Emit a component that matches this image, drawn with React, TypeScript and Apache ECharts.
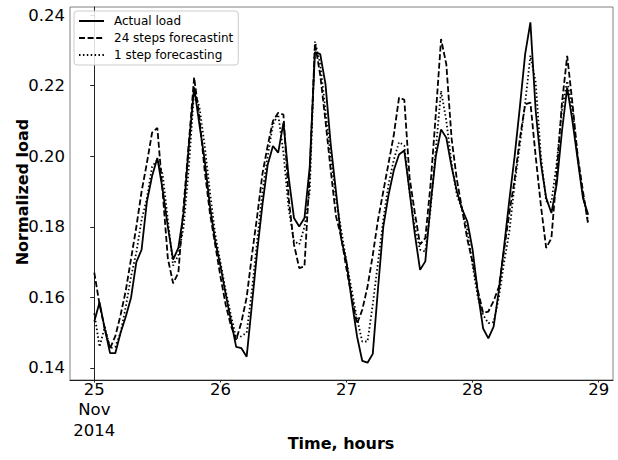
import React, { useEffect, useRef } from "react";
import * as echarts from "echarts";

// Hourly values starting 25 Nov 2014 00:00 (index = hour)
const actualLoad = [
  0.1532, 0.1586, 0.151, 0.1442, 0.1442, 0.15, 0.1546, 0.16, 0.17, 0.1735,
  0.187, 0.1944, 0.1995, 0.1906, 0.18, 0.1707, 0.174, 0.184, 0.203, 0.2195,
  0.209, 0.199, 0.186, 0.176, 0.169, 0.161, 0.1535, 0.146, 0.1456, 0.1432,
  0.158, 0.173, 0.1863, 0.1976, 0.2029, 0.201, 0.2095, 0.1939, 0.1825, 0.1801,
  0.1825, 0.197, 0.2295, 0.2289, 0.2204, 0.2033, 0.19, 0.1765, 0.17, 0.159,
  0.149, 0.142, 0.1415, 0.144, 0.1626, 0.18, 0.189, 0.196, 0.2005, 0.2016,
  0.19, 0.178, 0.1678, 0.1702, 0.1863, 0.2, 0.2076, 0.2052, 0.197, 0.1901,
  0.185, 0.1815, 0.1735, 0.1613, 0.1512, 0.1484, 0.1517, 0.162, 0.1745, 0.1877,
  0.2, 0.214, 0.2289, 0.2379, 0.213, 0.198, 0.1882, 0.1839, 0.192, 0.207,
  0.2194, 0.21, 0.199, 0.1882, 0.1834,
];

const forecast24 = [
  0.167, 0.158, 0.151, 0.1456, 0.149, 0.155, 0.162, 0.171, 0.18, 0.19,
  0.198, 0.2067, 0.208, 0.19, 0.171, 0.164, 0.167, 0.186, 0.204, 0.2223,
  0.211, 0.196, 0.184, 0.175, 0.166, 0.158, 0.152, 0.148, 0.153, 0.16,
  0.172, 0.183, 0.195, 0.203, 0.21, 0.2123, 0.2118, 0.188, 0.175, 0.1683,
  0.1688, 0.195, 0.232, 0.223, 0.21, 0.196, 0.183, 0.177, 0.168, 0.16,
  0.1525, 0.1565, 0.163, 0.172, 0.182, 0.19, 0.198, 0.206, 0.2166, 0.216,
  0.194, 0.184, 0.175, 0.1768, 0.192, 0.212, 0.2332, 0.226, 0.205, 0.1934,
  0.185, 0.1764, 0.17, 0.162, 0.1556, 0.156, 0.159, 0.163, 0.1735, 0.184,
  0.1934, 0.205, 0.2147, 0.2152, 0.2, 0.186, 0.174, 0.1768, 0.195, 0.215,
  0.2284, 0.215, 0.2, 0.1901, 0.1806,
];

const forecast1 = [
  0.1555, 0.146, 0.1517, 0.1456, 0.146, 0.15, 0.1574, 0.166, 0.1727, 0.182,
  0.188, 0.197, 0.199, 0.195, 0.182, 0.169, 0.172, 0.18, 0.197, 0.2185,
  0.214, 0.203, 0.19, 0.178, 0.17, 0.162, 0.155, 0.1484, 0.149, 0.15,
  0.162, 0.176, 0.19, 0.2, 0.209, 0.2118, 0.201, 0.185, 0.176, 0.175,
  0.18, 0.19, 0.2325, 0.226, 0.213, 0.2, 0.188, 0.179, 0.17, 0.162,
  0.154, 0.1475, 0.1475, 0.158, 0.17, 0.182, 0.192, 0.199, 0.204, 0.203,
  0.19, 0.18, 0.1735, 0.173, 0.185, 0.202, 0.2185, 0.21, 0.198, 0.189,
  0.185, 0.179, 0.169, 0.16, 0.155, 0.1527, 0.153, 0.16, 0.17, 0.1787,
  0.192, 0.2033, 0.215, 0.2285, 0.221, 0.2, 0.1872, 0.187, 0.198, 0.213,
  0.2213, 0.213, 0.2, 0.189, 0.1815,
];

const seriesNames = ["Actual load", "24 steps forecastint", "1 step forecasting"];
const tickHours = [0, 24, 48, 72, 96];
const tickLabels = ["25\nNov\n2014", "26", "27", "28", "29"];
const yTicks = [0.14, 0.16, 0.18, 0.2, 0.22, 0.24];

const FONT = "DejaVu Sans";

export default function App() {
  const ref = useRef<HTMLDivElement>(null);

  useEffect(() => {
    document.body.style.margin = "0";
    const chart = echarts.init(ref.current!, null, { renderer: "svg" });
    const toPts = (arr: number[]) => arr.map((v, i) => [i, v]);
    const lineTypes: any[] = ["solid", [6, 2.6], [1.5, 2.4]];
    const seriesData = [actualLoad, forecast24, forecast1];

    chart.setOption({
      animation: false,
      backgroundColor: "#fff",
      grid: {
        left: 70,
        right: 5,
        top: 7,
        bottom: 80,
        show: true,
        borderColor: "#808080",
        borderWidth: 1,
        backgroundColor: "transparent",
      },
      legend: {
        orient: "vertical",
        left: 74,
        top: 11,
        itemWidth: 25,
        itemHeight: 14,
        itemGap: 5,
        padding: [4, 5, 4, 4],
        backgroundColor: "rgba(255,255,255,0.85)",
        borderColor: "#cccccc",
        borderWidth: 1,
        borderRadius: 3,
        itemStyle: { opacity: 0 },
        textStyle: {
          fontFamily: FONT,
          fontSize: 12,
          color: "#000",
          padding: [0, 0, 0, 5],
        },
        data: seriesNames.map((n) => ({ name: n })),
      },
      xAxis: {
        type: "value",
        min: -4.625,
        max: 98.72,
        splitLine: { show: false },
        axisLine: { show: true, lineStyle: { color: "#222", width: 1 } },
        axisTick: {
          show: true,
          inside: false,
          length: 2.5,
          customValues: tickHours,
          lineStyle: { color: "#222" },
        },
        axisLabel: {
          customValues: tickHours,
          formatter: (v: number) => {
            const i = tickHours.indexOf(Math.round(v));
            return i >= 0 ? tickLabels[i] : "";
          },
          fontFamily: FONT,
          fontSize: 16.5,
          color: "#000",
          lineHeight: 20.5,
          margin: -1,
        },
      },
      yAxis: {
        type: "value",
        min: 0.1366,
        max: 0.24227,
        splitLine: { show: false },
        axisLine: { show: true, lineStyle: { color: "#222", width: 1 } },
        axisTick: {
          show: true,
          inside: false,
          length: 4,
          customValues: yTicks,
          lineStyle: { color: "#222" },
        },
        axisLabel: {
          customValues: yTicks,
          formatter: (v: number) => v.toFixed(2),
          fontFamily: FONT,
          fontSize: 16.5,
          color: "#000",
          margin: 5,
        },
      },
      graphic: [
        {
          type: "text",
          x: 22,
          y: 192,
          rotation: Math.PI / 2,
          style: {
            text: "Normalized load",
            fontFamily: FONT,
            fontSize: 16,
            fontWeight: "bold",
            fill: "#000",
            textAlign: "center",
            textVerticalAlign: "middle",
          },
        },
        {
          type: "text",
          x: 341,
          y: 443,
          style: {
            text: "Time, hours",
            fontFamily: FONT,
            fontSize: 16,
            fontWeight: "bold",
            fill: "#000",
            textAlign: "center",
            textVerticalAlign: "middle",
          },
        },
      ],
      series: seriesNames.map((name, k) => ({
        name,
        type: "line",
        data: toPts(seriesData[k]),
        symbol: "none",
        showSymbol: false,
        z: 3 - k,
        lineStyle: { color: "#000", width: 1.8, type: lineTypes[k] },
        itemStyle: { color: "#000" },
      })),
    });
    return () => chart.dispose();
  }, []);

  return <div ref={ref} style={{ width: 618, height: 460 }} />;
}
